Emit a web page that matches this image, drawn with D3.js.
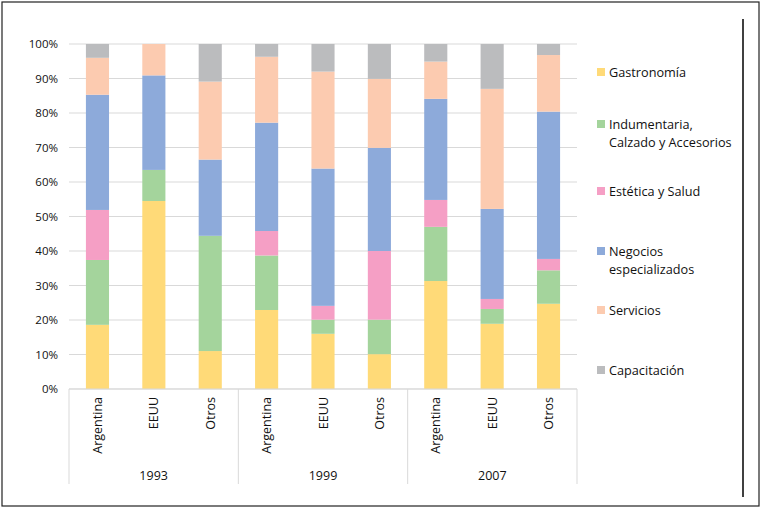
<!DOCTYPE html>
<html><head><meta charset="utf-8">
<script src="https://cdn.jsdelivr.net/npm/d3@7"></script>
<style>body{margin:0;background:#fff}text{font-family:"Open Sans",sans-serif;fill:#111}</style>
</head><body>
<svg id="chart" width="768" height="512"></svg>
<script>
const years = ['1993', '1999', '2007']
const origins = ['Argentina', 'EEUU', 'Otros']
const series = ['Gastronomía', 'Indumentaria, Calzado y Accesorios', 'Estética y Salud', 'Negocios especializados', 'Servicios', 'Capacitación']
const legendLines = [['Gastronomía'], ['Indumentaria,', 'Calzado y Accesorios'], ['Estética y Salud'], ['Negocios', 'especializados'], ['Servicios'], ['Capacitación']]
const colors = ['#FFDA78', '#A4D49C', '#F59FC5', '#8DAADA', '#FCCBB0', '#BBBCBE']
// values per series (%), one per bar: 1993 Arg/EEUU/Otros, 1999 ..., 2007 ...
const gastronomia   = [18.6, 54.5, 11.0, 22.9, 16.0, 10.1, 31.3, 18.9, 24.7]
const indumentaria  = [18.8, 9.0, 33.4, 15.8, 4.1, 10.0, 15.7, 4.3, 9.7]
const estetica      = [14.5, 0, 0, 7.1, 4.0, 19.9, 7.8, 2.9, 3.3]
const negocios      = [33.4, 27.4, 22.1, 31.4, 39.8, 29.9, 29.3, 26.1, 42.7]
const servicios     = [10.7, 9.1, 22.6, 19.1, 28.1, 20.0, 10.8, 34.8, 16.4]
const capacitacion  = [4.0, 0, 10.9, 3.7, 8.0, 10.1, 5.1, 13.0, 3.2]
const yTicks = [0, 10, 20, 30, 40, 50, 60, 70, 80, 90, 100]

const svg = d3.select('#chart')
const cols = [gastronomia, indumentaria, estetica, negocios, servicios, capacitacion]
const rows = []
years.forEach((yr, i) => origins.forEach((o, j) => {
    const k = i * 3 + j
    const r = { key: yr + '|' + o, year: yr, origin: o }
    series.forEach((s, si) => r[s] = cols[si][k])
    rows.push(r)
}))

const x = d3.scaleBand().domain(rows.map(d => d.key)).range([69, 577]).paddingInner(0.59).paddingOuter(0.3)
const y = d3.scaleLinear().domain([0, 100]).range([389, 44])

svg.append('rect').attr('x', 2).attr('y', 2).attr('width', 757).attr('height', 504)
    .attr('fill', 'none').attr('stroke', '#222').attr('stroke-width', 1.2)
svg.append('line').attr('x1', 743).attr('x2', 743).attr('y1', 19).attr('y2', 497)
    .attr('stroke', '#000').attr('stroke-width', 1.5)

// grid
svg.append('g').selectAll('line').data(yTicks).join('line')
    .attr('x1', 69).attr('x2', 577).attr('y1', d => y(d)).attr('y2', d => y(d))
    .attr('stroke', '#d9d9d9')
svg.append('g').selectAll('text').data(yTicks).join('text')
    .attr('x', 58).attr('y', d => y(d) + 4).attr('text-anchor', 'end')
    .style('font-size', '11.5px').text(d => d + '%')

const stack = d3.stack().keys(series)(rows)
svg.append('g').selectAll('g').data(stack).join('g')
    .attr('fill', (d, i) => colors[i])
    .selectAll('rect').data(d => d).join('rect')
    .attr('x', d => x(d.data.key)).attr('width', x.bandwidth())
    .attr('y', d => y(d[1])).attr('height', d => y(d[0]) - y(d[1]))

// category axis
const groupEdges = [69, 69 + (577 - 69) / 3, 69 + 2 * (577 - 69) / 3, 577]
svg.append('line').attr('x1', 69).attr('x2', 577).attr('y1', 389).attr('y2', 389).attr('stroke', '#d9d9d9')
svg.append('g').selectAll('line').data(groupEdges).join('line')
    .attr('x1', d => d).attr('x2', d => d).attr('y1', 389).attr('y2', 484)
    .attr('stroke', '#d9d9d9')
svg.append('g').selectAll('text').data(rows).join('text')
    .attr('transform', d => `translate(${x(d.key) + x.bandwidth() / 2 + 4.5},397) rotate(-90)`)
    .attr('text-anchor', 'end').style('font-size', '12.5px').text(d => d.origin)
svg.append('g').selectAll('text').data(years).join('text')
    .attr('x', (d, i) => (groupEdges[i] + groupEdges[i + 1]) / 2).attr('y', 480)
    .attr('text-anchor', 'middle').style('font-size', '12.5px').text(d => d)

// legend
const legendY = [72, 124, 191, 251, 310, 370]
const lg = svg.append('g').selectAll('g').data(series).join('g')
    .attr('transform', (d, i) => `translate(597,${legendY[i]})`)
lg.append('rect').attr('x', 0).attr('y', -4).attr('width', 8).attr('height', 8).attr('fill', (d, i) => colors[i])
lg.append('text').attr('x', 12).attr('y', 4.5).style('font-size', '12.7px')
    .selectAll('tspan').data((d, i) => legendLines[i]).join('tspan')
    .attr('x', 12).attr('dy', (d, i) => i ? 18 : 0).text(d => d)
</script>
</body></html>
